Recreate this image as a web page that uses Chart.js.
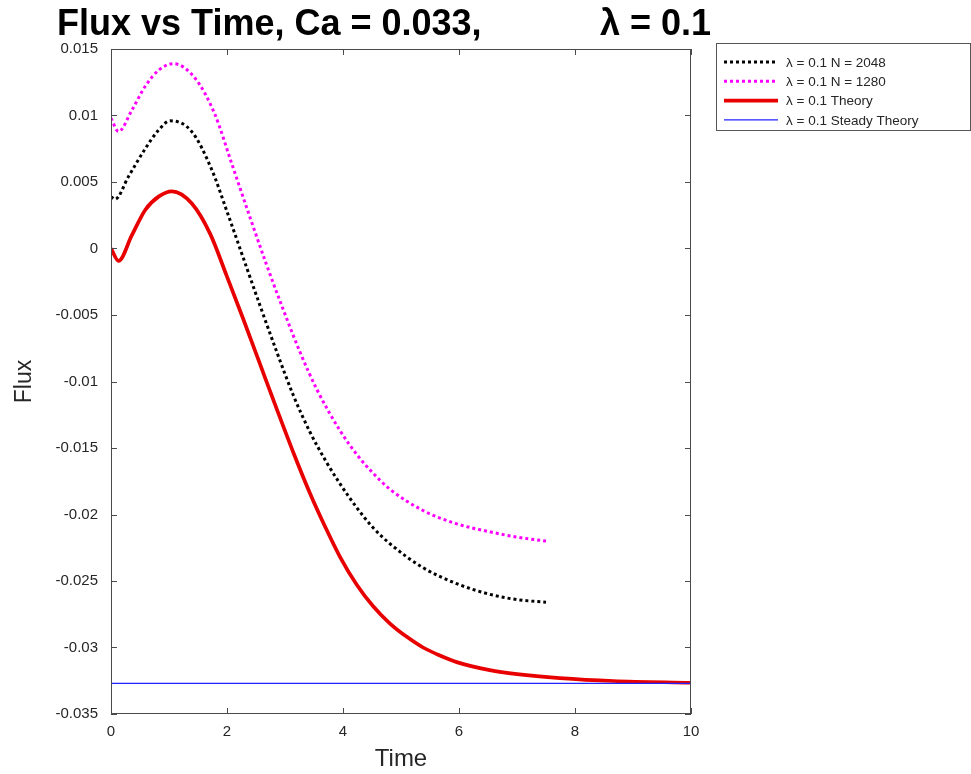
<!DOCTYPE html>
<html>
<head>
<meta charset="utf-8">
<script src="https://cdn.jsdelivr.net/npm/chart.js@4.4.1/dist/chart.umd.min.js"></script>
<style>
  html, body { margin: 0; padding: 0; background: #fff; }
  #wrap { width: 971px; height: 774px; }
</style>
</head>
<body>
<div id="wrap"><canvas id="fluxChart" width="971" height="774"></canvas></div>
<script>
// values
const timeN2048 = [0, 0.07, 0.3, 0.59, 0.82, 1.02, 1.39, 1.74, 1.99, 2.28, 2.57, 2.86, 3.14, 3.43, 3.72, 3.95, 4.24, 4.52, 4.81, 5.38, 5.96, 6.53, 7.0, 7.5];
const fluxN2048 = [0.0039, 0.0037, 0.0054, 0.0075, 0.0089, 0.0096, 0.0088, 0.0059, 0.0029, -0.0007, -0.0043, -0.0078, -0.011, -0.0138, -0.0161, -0.0177, -0.0195, -0.021, -0.0222, -0.024, -0.0252, -0.026, -0.0264, -0.0266];

const timeN1280 = [0, 0.13, 0.36, 0.59, 0.82, 1.07, 1.45, 1.79, 2.08, 2.4, 2.68, 2.97, 3.26, 3.55, 3.95, 4.24, 4.52, 4.81, 5.38, 5.96, 6.53, 7.0, 7.5];
const fluxN1280 = [0.0098, 0.0088, 0.0104, 0.0122, 0.0134, 0.0139, 0.0128, 0.0101, 0.0064, 0.0023, -0.0012, -0.0046, -0.0078, -0.0106, -0.0137, -0.0155, -0.0169, -0.0181, -0.0197, -0.0207, -0.0213, -0.0217, -0.022];

const timeTheory = [0, 0.13, 0.36, 0.59, 0.82, 1.05, 1.39, 1.71, 1.99, 2.28, 2.57, 2.86, 3.14, 3.43, 3.69, 3.95, 4.24, 4.52, 4.81, 5.1, 5.38, 5.67, 5.96, 6.53, 7.0, 7.74, 8.66, 10];
const fluxTheory = [0, -0.00093, 0.001, 0.0029, 0.0039, 0.0043, 0.0034, 0.0011, -0.002, -0.0053, -0.0087, -0.0121, -0.0153, -0.0184, -0.0209, -0.0232, -0.0253, -0.0269, -0.0282, -0.0292, -0.03, -0.0306, -0.0311, -0.0317, -0.032, -0.0323, -0.03252, -0.03265];

const timeSteady = [0, 10];
const fluxSteady = [-0.0327, -0.0327];

const seriesLabels = ['λ = 0.1 N = 2048', 'λ = 0.1 N = 1280', 'λ = 0.1 Theory', 'λ = 0.1 Steady Theory'];
const xTicks = [0, 2, 4, 6, 8, 10];

const FONT = '"Liberation Sans", Arial, Helvetica, sans-serif';
const AXIS = '#4a4a4a';
const TEXT = '#262626';

const toPoints = (ts, vs) => ts.map((t, i) => ({ x: t, y: vs[i] }));

// MATLAB style box with inward ticks, title and legend
const boxPlugin = {
    id: 'boxPlugin',
    afterDatasetsDraw(chart) {
        const { ctx, chartArea: a, scales } = chart;
        ctx.save();
        ctx.strokeStyle = AXIS;
        ctx.lineWidth = 1;
        ctx.strokeRect(a.left + 0.5, a.top + 0.5, a.right - a.left - 1, a.bottom - a.top - 1);
        const len = 6;
        ctx.beginPath();
        scales.x.ticks.forEach(t => {
            const px = Math.round(scales.x.getPixelForValue(t.value)) + 0.5;
            ctx.moveTo(px, a.bottom); ctx.lineTo(px, a.bottom - len);
            ctx.moveTo(px, a.top); ctx.lineTo(px, a.top + len);
        });
        scales.y.ticks.forEach(t => {
            const py = Math.round(scales.y.getPixelForValue(t.value)) + 0.5;
            ctx.moveTo(a.left, py); ctx.lineTo(a.left + len, py);
            ctx.moveTo(a.right, py); ctx.lineTo(a.right - len, py);
        });
        ctx.stroke();

        // title
        ctx.fillStyle = '#000';
        ctx.font = 'bold 36px ' + FONT;
        ctx.textBaseline = 'alphabetic';
        ctx.textAlign = 'left';
        ctx.fillText('Flux vs Time, Ca = 0.033,', 57, 35);
        ctx.fillText('λ = 0.1', 600, 35);

        // legend
        const lx = 716, ly = 43, lw = 254, lh = 87;
        ctx.fillStyle = '#fff';
        ctx.fillRect(lx, ly, lw, lh);
        ctx.strokeStyle = '#555';
        ctx.lineWidth = 1;
        ctx.strokeRect(lx + 0.5, ly + 0.5, lw, lh);
        ctx.font = '13.5px ' + FONT;
        ctx.textBaseline = 'middle';
        chart.data.datasets.forEach((ds, i) => {
            const y = 62 + i * 19.3;
            ctx.save();
            ctx.strokeStyle = ds.borderColor;
            ctx.lineWidth = ds.borderWidth;
            ctx.setLineDash(ds.borderDash || []);
            ctx.beginPath();
            ctx.moveTo(724, y); ctx.lineTo(778, y);
            ctx.stroke();
            ctx.restore();
            ctx.fillStyle = TEXT;
            ctx.fillText(ds.label, 786, y + 1);
        });
        ctx.restore();
    }
};

const ctx = document.getElementById('fluxChart').getContext('2d');
new Chart(ctx, {
    type: 'line',
    data: {
        datasets: [
            {
                label: seriesLabels[0],
                data: toPoints(timeN2048, fluxN2048),
                borderColor: '#000000',
                borderWidth: 3,
                borderDash: [3, 3],
                order: 3
            },
            {
                label: seriesLabels[1],
                data: toPoints(timeN1280, fluxN1280),
                borderColor: '#ff00ff',
                borderWidth: 3,
                borderDash: [3, 3],
                order: 2
            },
            {
                label: seriesLabels[2],
                data: toPoints(timeTheory, fluxTheory),
                borderColor: '#e80000',
                borderWidth: 3.7,
                order: 1
            },
            {
                label: seriesLabels[3],
                data: toPoints(timeSteady, fluxSteady),
                borderColor: '#2222ff',
                borderWidth: 1.4,
                order: 0
            }
        ]
    },
    plugins: [boxPlugin],
    options: {
        responsive: false,
        animation: false,
        layout: { padding: { top: 49, right: 280, left: 0, bottom: 0 } },
        elements: {
            point: { radius: 0 },
            line: { cubicInterpolationMode: 'monotone', fill: false, borderCapStyle: 'butt' }
        },
        scales: {
            x: {
                type: 'linear',
                min: 0,
                max: 10,
                afterBuildTicks: s => { s.ticks = xTicks.map(v => ({ value: v })); },
                afterFit: s => { s.height = 60; },
                grid: { display: false, drawTicks: false },
                border: { display: false },
                ticks: { color: TEXT, font: { family: FONT, size: 15 }, padding: 9, maxRotation: 0 },
                title: { display: true, text: 'Time', color: TEXT, font: { family: FONT, size: 24 }, padding: { top: 0, bottom: 0 } }
            },
            y: {
                min: -0.035,
                max: 0.015,
                afterFit: s => { s.width = 111; },
                grid: { display: false, drawTicks: false },
                border: { display: false },
                ticks: {
                    stepSize: 0.005,
                    color: TEXT,
                    font: { family: FONT, size: 15 },
                    padding: 13,
                    callback: v => String(Number(v.toFixed(3)))
                },
                title: { display: true, text: 'Flux', color: TEXT, font: { family: FONT, size: 23 }, padding: { top: 11, bottom: 0 } }
            }
        },
        plugins: {
            legend: { display: false },
            title: { display: false },
            tooltip: { enabled: false }
        }
    }
});
</script>
</body>
</html>
